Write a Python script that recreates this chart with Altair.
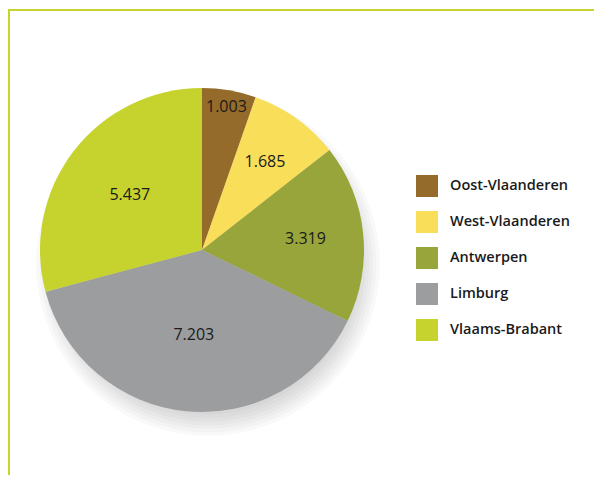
import altair as alt
import pandas as pd
import math

regions = ["Oost-Vlaanderen", "West-Vlaanderen", "Antwerpen", "Limburg", "Vlaams-Brabant"]
values = [1003, 1685, 3319, 7203, 5437]
value_labels = ["1.003", "1.685", "3.319", "7.203", "5.437"]
colors = ["#946b2a", "#f9de5a", "#98a53a", "#9c9d9f", "#c6d32e"]
# styling: radial distance of each value label from the pie centre (px)
label_radius = [145, 108, 104, 85, 91]
# styling: soft drop-shadow rings (px)
shadow_radii = [150, 154, 158, 162, 166, 170, 174, 178, 182, 186, 190, 194]

W, H = 586, 467
CX, CY, R = 194, 242, 162
FRAME = "#c8d42e"

df = pd.DataFrame({
    "region": regions,
    "value": values,
    "label": value_labels,
    "order": list(range(len(regions))),
    "lr": label_radius,
})

shadow_df = pd.DataFrame({"s": [math.pi * r * r for r in shadow_radii]})
shadow = alt.Chart(shadow_df).mark_circle(color="#6f6f6f", opacity=0.04).encode(
    x=alt.value(CX + 6), y=alt.value(CY + 14),
    size=alt.Size("s:Q", scale=None),
)

pie = alt.Chart(df).mark_arc(outerRadius=R, x=CX, y=CY).encode(
    theta=alt.Theta("value:Q", stack=True),
    order=alt.Order("order:Q"),
    color=alt.Color(
        "region:N",
        scale=alt.Scale(domain=regions, range=colors),
        sort=regions,
        legend=alt.Legend(
            orient="none", legendX=408, legendY=167, title=None,
            symbolType="square", symbolSize=484, symbolStrokeWidth=0, symbolOpacity=1,
            labelFont="Open Sans", labelFontSize=14.5, labelFontWeight=600,
            labelColor="#1a1a1a", rowPadding=14, labelOffset=12,
        ),
    ),
)

text = alt.Chart(df).transform_joinaggregate(
    total="sum(value)"
).transform_window(
    cum="sum(value)", sort=[alt.SortField("order")], frame=[None, 0]
).transform_calculate(
    mid="2 * PI * (datum.cum - datum.value / 2) / datum.total"
).mark_text(x=CX, y=CY, font="Open Sans", fontSize=16, color="#1a1a1a").encode(
    theta=alt.Theta("mid:Q", scale=None, stack=None),
    radius=alt.Radius("lr:Q", scale=None),
    text="label:N",
)

frame_df = pd.DataFrame({"a": [0]})
top_line = alt.Chart(frame_df).mark_rule(color=FRAME, strokeWidth=2).encode(
    x=alt.value(0), x2=alt.value(W), y=alt.value(2)
)
left_line = alt.Chart(frame_df).mark_rule(color=FRAME, strokeWidth=2).encode(
    x=alt.value(1), y=alt.value(2), y2=alt.value(H)
)

chart = alt.layer(shadow, pie, text, top_line, left_line).resolve_scale(
    theta="independent", radius="independent"
).properties(
    width=W, height=H, padding=0, autosize=alt.AutoSizeParams(type="none")
).configure_view(stroke=None)

chart.save("out.html", embed_options={"renderer": "svg", "actions": False})
